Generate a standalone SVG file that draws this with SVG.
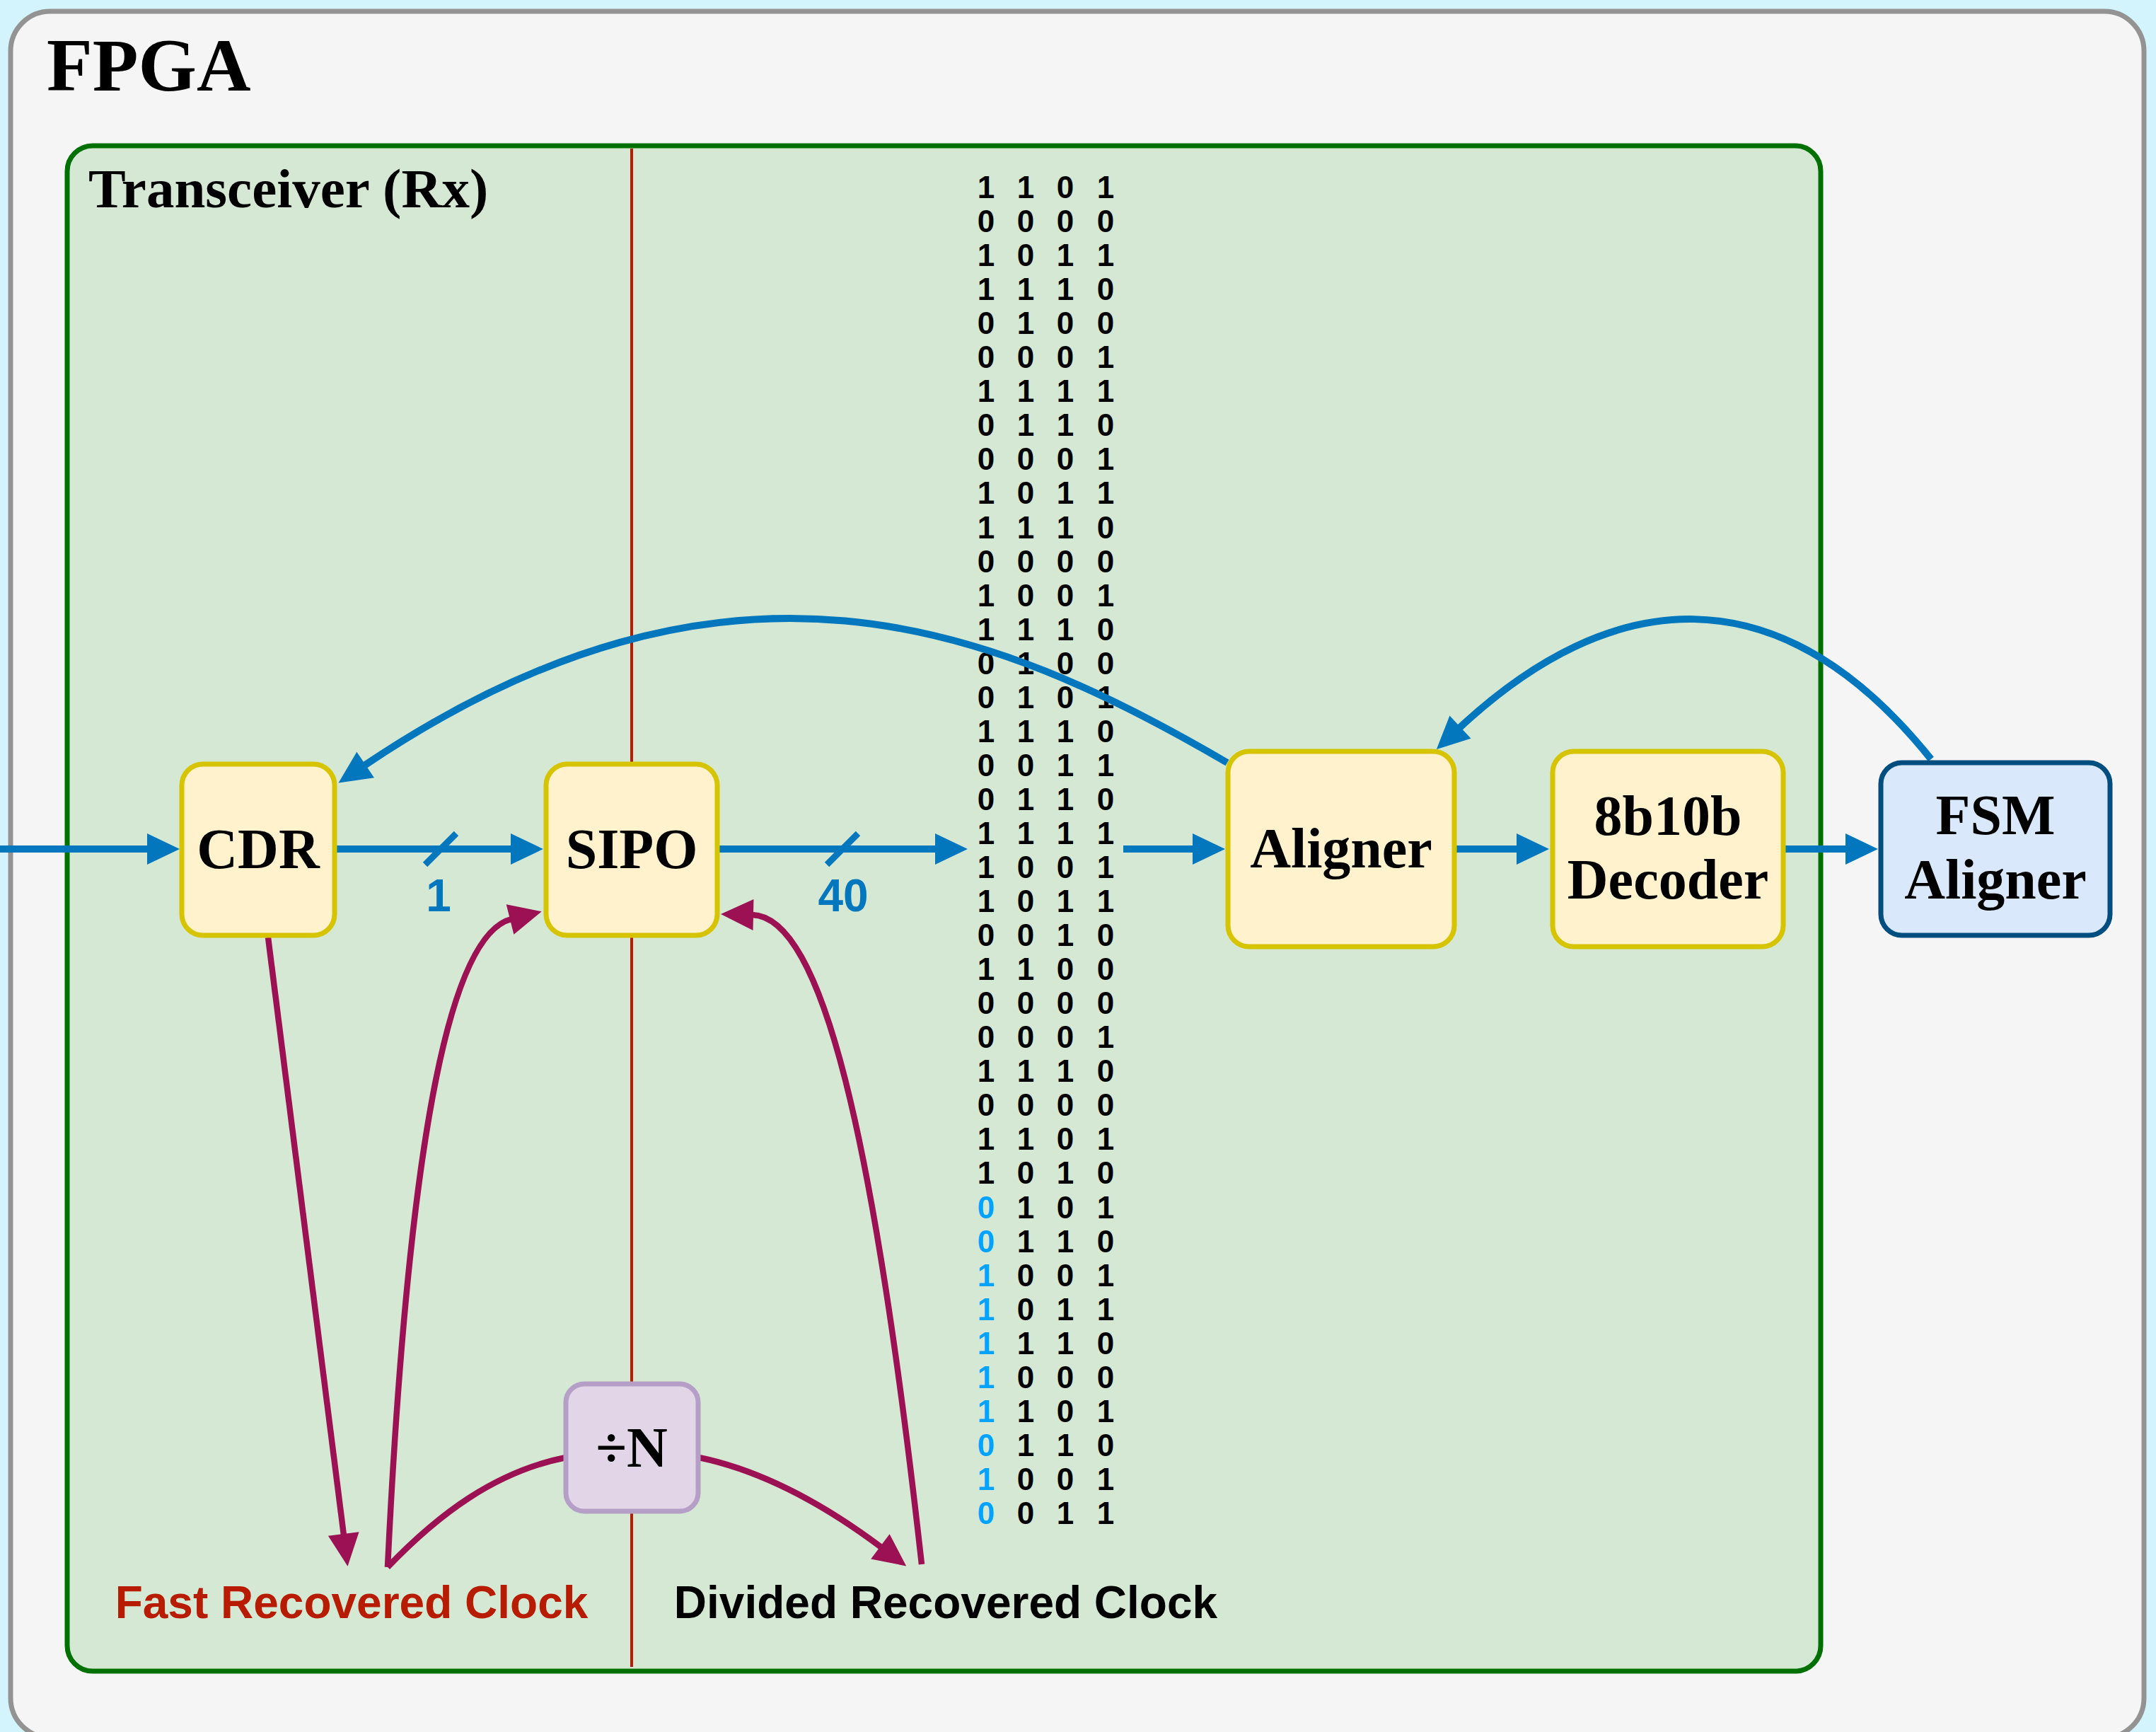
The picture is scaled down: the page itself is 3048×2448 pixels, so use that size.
<svg xmlns="http://www.w3.org/2000/svg" width="3048" height="2448" viewBox="0 0 3048 2448">
  <style>
    .serif { font-family: "Liberation Serif", "Times New Roman", serif; font-weight: bold; }
    .sans { font-family: "Liberation Sans", Arial, Helvetica, sans-serif; font-weight: bold; }
    .node-label { font-size: 80px; text-anchor: middle; fill: #000; }
    .block { stroke-width: 7; }
    .yellow { fill: #fff2cc; stroke: #d6c400; }
    .blue-node { fill: #dae8fc; stroke: #004d80; }
    .purple { fill: #e1d5e7; stroke: #b59fc6; }
    .bus { fill: none; stroke: #0277bd; stroke-width: 10; }
    .slash { stroke: #0277bd; stroke-width: 9; }
    .clk { fill: none; stroke: #9b1153; stroke-width: 8.5; }
    .bits text { font-size: 44px; text-anchor: middle; fill: #000; }
    .bits .hl { fill: #00a3ff; }
    .width { font-size: 64px; text-anchor: middle; fill: #0277bd; }
    .clk-label { font-size: 64px; text-anchor: middle; }
  </style>
  <defs>
    <marker id="ah-blue" markerUnits="userSpaceOnUse" markerWidth="48" markerHeight="48" viewBox="-2 0 48 44" refX="0" refY="22" orient="auto" style="overflow:visible">
      <path d="M-2,0 L44,22 L-2,44 Z" fill="#0277bd"/>
    </marker>
    <marker id="ah-clk" markerUnits="userSpaceOnUse" markerWidth="48" markerHeight="48" viewBox="-2 0 48 44" refX="0" refY="22" orient="auto" style="overflow:visible">
      <path d="M-2,0 L44,22 L-2,44 Z" fill="#9b1153"/>
    </marker>
  </defs>

  <!-- page background -->
  <rect x="0" y="0" width="3048" height="2448" fill="#d3f4fc"/>

  <!-- FPGA container -->
  <g id="fpga">
    <rect x="15" y="16" width="3016" height="2440" rx="56" ry="56" fill="#f5f5f5" stroke="#939393" stroke-width="7"/>
    <text class="serif" x="66" y="128" font-size="106" fill="#000">FPGA</text>
  </g>

  <!-- transceiver (Rx) container -->
  <g id="transceiver">
    <rect x="95" y="206" width="2479" height="2156" rx="36" ry="36" fill="#d5e8d4" stroke="#007000" stroke-width="7"/>
    <text class="serif" x="125" y="293" font-size="79" fill="#000">Transceiver (Rx)</text>
  </g>

  <!-- clock domain boundary -->
  <g id="clock-boundary">
    <line x1="893" y1="210" x2="893" y2="2356" stroke="#b81c00" stroke-width="4"/>
  </g>

  <!-- parallel words leaving the SIPO -->
  <g id="bit-stream" class="bits sans">
    <text x="1394 1450 1506 1563" y="280">1101</text>
    <text x="1394 1450 1506 1563" y="328.05">0000</text>
    <text x="1394 1450 1506 1563" y="376.1">1011</text>
    <text x="1394 1450 1506 1563" y="424.15">1110</text>
    <text x="1394 1450 1506 1563" y="472.2">0100</text>
    <text x="1394 1450 1506 1563" y="520.25">0001</text>
    <text x="1394 1450 1506 1563" y="568.3">1111</text>
    <text x="1394 1450 1506 1563" y="616.35">0110</text>
    <text x="1394 1450 1506 1563" y="664.4">0001</text>
    <text x="1394 1450 1506 1563" y="712.45">1011</text>
    <text x="1394 1450 1506 1563" y="760.5">1110</text>
    <text x="1394 1450 1506 1563" y="808.55">0000</text>
    <text x="1394 1450 1506 1563" y="856.6">1001</text>
    <text x="1394 1450 1506 1563" y="904.65">1110</text>
    <text x="1394 1450 1506 1563" y="952.7">0100</text>
    <text x="1394 1450 1506 1563" y="1000.75">0101</text>
    <text x="1394 1450 1506 1563" y="1048.8">1110</text>
    <text x="1394 1450 1506 1563" y="1096.85">0011</text>
    <text x="1394 1450 1506 1563" y="1144.9">0110</text>
    <text x="1394 1450 1506 1563" y="1192.95">1111</text>
    <text x="1394 1450 1506 1563" y="1241">1001</text>
    <text x="1394 1450 1506 1563" y="1289.05">1011</text>
    <text x="1394 1450 1506 1563" y="1337.1">0010</text>
    <text x="1394 1450 1506 1563" y="1385.15">1100</text>
    <text x="1394 1450 1506 1563" y="1433.2">0000</text>
    <text x="1394 1450 1506 1563" y="1481.25">0001</text>
    <text x="1394 1450 1506 1563" y="1529.3">1110</text>
    <text x="1394 1450 1506 1563" y="1577.35">0000</text>
    <text x="1394 1450 1506 1563" y="1625.4">1101</text>
    <text x="1394 1450 1506 1563" y="1673.45">1010</text>
    <text y="1721.5"><tspan class="hl" x="1394">0</tspan><tspan x="1450 1506 1563">101</tspan></text>
    <text y="1769.55"><tspan class="hl" x="1394">0</tspan><tspan x="1450 1506 1563">110</tspan></text>
    <text y="1817.6"><tspan class="hl" x="1394">1</tspan><tspan x="1450 1506 1563">001</tspan></text>
    <text y="1865.65"><tspan class="hl" x="1394">1</tspan><tspan x="1450 1506 1563">011</tspan></text>
    <text y="1913.7"><tspan class="hl" x="1394">1</tspan><tspan x="1450 1506 1563">110</tspan></text>
    <text y="1961.75"><tspan class="hl" x="1394">1</tspan><tspan x="1450 1506 1563">000</tspan></text>
    <text y="2009.8"><tspan class="hl" x="1394">1</tspan><tspan x="1450 1506 1563">101</tspan></text>
    <text y="2057.85"><tspan class="hl" x="1394">0</tspan><tspan x="1450 1506 1563">110</tspan></text>
    <text y="2105.9"><tspan class="hl" x="1394">1</tspan><tspan x="1450 1506 1563">001</tspan></text>
    <text y="2153.95"><tspan class="hl" x="1394">0</tspan><tspan x="1450 1506 1563">011</tspan></text>
  </g>

  <!-- connectors -->
  <g id="connectors">
    <!-- data path -->
    <path class="bus" d="M0,1200 H210" marker-end="url(#ah-blue)"/>
    <path class="bus" d="M473,1200 H724" marker-end="url(#ah-blue)"/>
    <line class="slash" x1="601" y1="1222" x2="645" y2="1178"/>
    <path class="bus" d="M1015,1200 H1324" marker-end="url(#ah-blue)"/>
    <line class="slash" x1="1169" y1="1222" x2="1213" y2="1178"/>
    <path class="bus" d="M1588,1200 H1688" marker-end="url(#ah-blue)"/>
    <path class="bus" d="M2057,1200 H2146" marker-end="url(#ah-blue)"/>
    <path class="bus" d="M2521,1200 H2611" marker-end="url(#ah-blue)"/>
    <!-- feedback paths -->
    <path class="bus" d="M1735,1078 C1405,885 1030,735 515,1082" marker-end="url(#ah-blue)"/>
    <path class="bus" d="M2730,1073 C2513,803 2276,830 2063,1029" marker-end="url(#ah-blue)"/>
    <!-- clocking -->
    <path class="clk" d="M379,1325 L486,2170" marker-end="url(#ah-clk)"/>
    <path class="clk" d="M548,2215 C577,1615 635,1321 723,1299" marker-end="url(#ah-clk)"/>
    <path class="clk" d="M800,2060 C700,2080 620,2140 548,2215"/>
    <path class="clk" d="M988,2060 C1090,2081 1182,2139 1246,2187" marker-end="url(#ah-clk)"/>
    <path class="clk" d="M1303,2211 C1236,1611 1163,1295 1063,1293" marker-end="url(#ah-clk)"/>
  </g>

  <!-- bus width labels -->
  <text class="sans width" x="620" y="1288">1</text>
  <text class="sans width" x="1192" y="1288">40</text>

  <!-- blocks -->
  <g id="cdr">
    <rect class="block yellow" x="257" y="1080" width="216" height="242" rx="30" ry="30"/>
    <text class="serif node-label" x="365" y="1227">CDR</text>
  </g>
  <g id="sipo">
    <rect class="block yellow" x="772" y="1080" width="242" height="242" rx="30" ry="30"/>
    <text class="serif node-label" x="893" y="1227">SIPO</text>
  </g>
  <g id="aligner">
    <rect class="block yellow" x="1736" y="1062" width="320" height="276" rx="30" ry="30"/>
    <text class="serif node-label" x="1896" y="1226">Aligner</text>
  </g>
  <g id="decoder">
    <rect class="block yellow" x="2195" y="1062" width="326" height="276" rx="30" ry="30"/>
    <text class="serif node-label" x="2358" y="1180">8b10b</text>
    <text class="serif node-label" x="2358" y="1270">Decoder</text>
  </g>
  <g id="fsm-aligner">
    <rect class="block blue-node" x="2659" y="1078" width="324" height="244" rx="30" ry="30"/>
    <text class="serif node-label" x="2821" y="1179">FSM</text>
    <text class="serif node-label" x="2821" y="1270">Aligner</text>
  </g>
  <g id="divider">
    <rect class="block purple" x="800" y="1956" width="187" height="180" rx="26" ry="26"/>
    <text class="serif node-label" x="893" y="2073">÷N</text>
  </g>

  <!-- clock names -->
  <text class="sans clk-label" x="497" y="2287" fill="#b71c00">Fast Recovered Clock</text>
  <text class="sans clk-label" x="1337" y="2287" fill="#000">Divided Recovered Clock</text>
</svg>
